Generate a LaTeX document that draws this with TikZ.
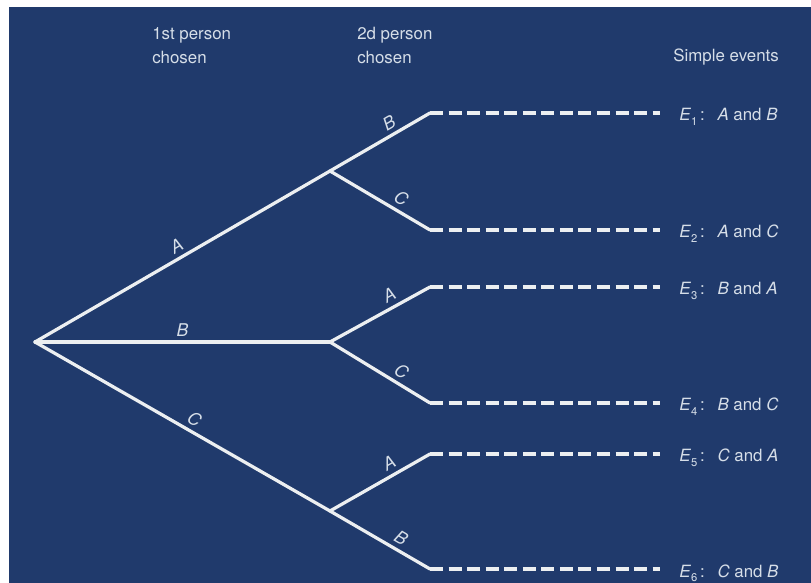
\documentclass[tikz,border=0pt]{standalone}
\usepackage{fontspec}
\setmainfont{TeX Gyre Heros}
\definecolor{board}{RGB}{32,58,108}
\definecolor{chalk}{RGB}{236,239,241}
\definecolor{ink}{RGB}{214,222,232}
\newcommand{\event}[3]{\textit{E}\raisebox{-0.55ex}{\footnotesize #1}\,:\hspace{0.75em}\textit{#2} and \textit{#3}}

\begin{document}
\begin{tikzpicture}[x=0.025cm, y=-0.025cm,
  branch/.style={chalk, line width=2.3pt, line cap=round, line join=round},
  dashline/.style={chalk, line width=2.3pt, dash pattern=on 9.2pt off 4pt},
  letter/.style={text=ink, font=\fontsize{12.5}{14}\selectfont\itshape, sloped, above, inner sep=3pt},
  header/.style={text=ink, font=\fontsize{12}{17}\selectfont, align=left, anchor=north west, inner sep=0pt},
  event/.style={text=ink, font=\fontsize{12}{14}\selectfont, anchor=base west, inner sep=0pt}]
% fondo
\useasboundingbox (0,0) rectangle (811,583);
\fill[white] (0,0) rectangle (811,583);
\fill[board] (9,7) rectangle (811,583);
% titoli
\node[header] (first) at (152,27) {1st person\\chosen};
\node[header] (second) at (357,27) {2d person\\chosen};
\node[event] (simple) at (673,62) {Simple events};
% punti dell'albero
\coordinate (root) at (35,342);
\coordinate (a) at (330,171);
\coordinate (b) at (330,342);
\coordinate (c) at (330,511);
\coordinate (l1) at (430,113);
\coordinate (l2) at (430,230);
\coordinate (l3) at (430,287);
\coordinate (l4) at (430,403);
\coordinate (l5) at (430,454);
\coordinate (l6) at (430,569);
% primo livello
\draw[branch] (root) -- node[letter] {A} (a);
\draw[branch] (root) -- node[letter] {B} (b);
\draw[branch] (root) -- node[letter, pos=0.52] {C} (c);
% secondo livello
\draw[branch] (a) -- node[letter, pos=0.65] {B} (l1);
\draw[branch] (a) -- node[letter, pos=0.65] {C} (l2);
\draw[branch] (b) -- node[letter, pos=0.65] {A} (l3);
\draw[branch] (b) -- node[letter, pos=0.65] {C} (l4);
\draw[branch] (c) -- node[letter, pos=0.65] {A} (l5);
\draw[branch] (c) -- node[letter, pos=0.65] {B} (l6);
% eventi
\node[event] (e1) at (679,121) {\event{1}{A}{B}};
\node[event] (e2) at (679,238) {\event{2}{A}{C}};
\node[event] (e3) at (679,295) {\event{3}{B}{A}};
\node[event] (e4) at (679,411) {\event{4}{B}{C}};
\node[event] (e5) at (679,462) {\event{5}{C}{A}};
\node[event] (e6) at (679,577) {\event{6}{C}{B}};
\draw[dashline] (l1) -- ++(230,0);
\draw[dashline] (l2) -- ++(230,0);
\draw[dashline] (l3) -- ++(230,0);
\draw[dashline] (l4) -- ++(230,0);
\draw[dashline] (l5) -- ++(230,0);
\draw[dashline] (l6) -- ++(230,0);
\end{tikzpicture}
\end{document}
